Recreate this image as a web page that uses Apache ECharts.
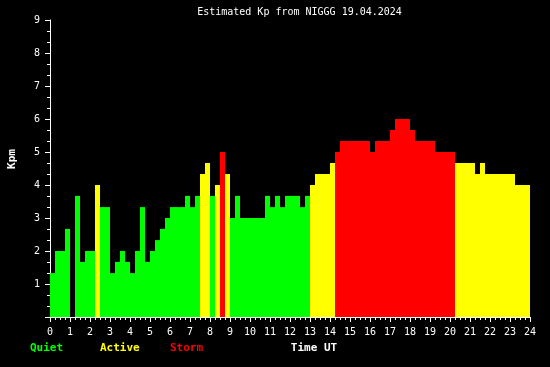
<!DOCTYPE html>
<html>
<head>
<meta charset="utf-8">
<script src="https://cdn.jsdelivr.net/npm/echarts@6/dist/echarts.min.js"></script>
<style>
html,body{margin:0;padding:0;background:#000;}
#chart{width:550px;height:367px;}
</style>
</head>
<body>
<div id="chart"></div>
<script>
// Estimated Kp, 15-minute intervals starting 00:00 UT (96 values)
const kpValues = [
  1.33, 2, 2, 2.67, 0, 3.67, 1.67, 2, 2, 4, 3.33, 3.33,
  1.33, 1.67, 2, 1.67, 1.33, 2, 3.33, 1.67, 2, 2.33, 2.67, 3,
  3.33, 3.33, 3.33, 3.67, 3.33, 3.67, 4.33, 4.67, 3.67, 4, 5, 4.33,
  3, 3.67, 3, 3, 3, 3, 3, 3.67, 3.33, 3.67, 3.33, 3.67,
  3.67, 3.67, 3.33, 3.67, 4, 4.33, 4.33, 4.33, 4.67, 5, 5.33, 5.33,
  5.33, 5.33, 5.33, 5.33, 5, 5.33, 5.33, 5.33, 5.67, 6, 6, 6,
  5.67, 5.33, 5.33, 5.33, 5.33, 5, 5, 5, 5, 4.67, 4.67, 4.67,
  4.67, 4.33, 4.67, 4.33, 4.33, 4.33, 4.33, 4.33, 4.33, 4, 4, 4
];
const stepHours = 0.25;
const titleText = 'Estimated Kp from NIGGG 19.04.2024';
const legendNames = ['Quiet', 'Active', 'Storm'];
const legendColors = ['#00ff00', '#ffff00', '#ff0000'];
const xAxisName = 'Time UT';
const yAxisName = 'Kpm';

function colorFor(v) {
  if (v >= 5) return legendColors[2];
  if (v >= 4) return legendColors[1];
  return legendColors[0];
}

const barData = kpValues.map((v, i) => ({
  value: [i * stepHours + stepHours / 2, v],
  itemStyle: { color: colorFor(v) }
}));

const mono = '"DejaVu Sans Mono", monospace';
const chart = echarts.init(document.getElementById('chart'), null, { renderer: 'canvas' });
const legendX = [30, 100, 170];

chart.setOption({
  backgroundColor: '#000000',
  animation: false,
  grid: { left: 50, right: 20, top: 20, bottom: 50, containLabel: false },
  xAxis: {
    type: 'value', min: 0, max: 24, interval: 1,
    axisLine: { show: true, lineStyle: { color: '#ffffff', width: 1 } },
    axisTick: { show: true, length: 5, lineStyle: { color: '#ffffff' } },
    minorTick: { show: true, splitNumber: 4, length: 3, lineStyle: { color: '#ffffff' } },
    axisLabel: { color: '#ffffff', fontFamily: mono, fontSize: 10, margin: 10 },
    splitLine: { show: false }
  },
  yAxis: {
    type: 'value', min: 0, max: 9, interval: 1,
    axisLine: { show: true, lineStyle: { color: '#ffffff', width: 1 } },
    axisTick: { show: true, length: 5, lineStyle: { color: '#ffffff' } },
    minorTick: { show: true, splitNumber: 3, length: 3, lineStyle: { color: '#ffffff' } },
    axisLabel: { color: '#ffffff', fontFamily: mono, fontSize: 10, margin: 10,
      formatter: v => (v === 0 ? '' : String(v)) },
    splitLine: { show: false }
  },
  series: [{
    type: 'bar',
    data: barData,
    barWidth: 5,
    barGap: '0%'
  }],
  graphic: [
    { type: 'text', x: 299.5, y: 12.5, style: { text: titleText, fill: '#ffffff',
      font: '10px ' + mono, textAlign: 'center', textVerticalAlign: 'middle' } },
    { type: 'text', x: 12, y: 159, rotation: Math.PI / 2, style: { text: yAxisName, fill: '#ffffff',
      font: 'bold 11px ' + mono, textAlign: 'center', textVerticalAlign: 'middle' } },
    { type: 'text', x: 314, y: 348.5, style: { text: xAxisName, fill: '#ffffff',
      font: 'bold 11px ' + mono, textAlign: 'center', textVerticalAlign: 'middle' } }
  ].concat(legendNames.map((name, i) => ({
    type: 'text', x: legendX[i], y: 348.5, style: { text: name, fill: legendColors[i],
      font: 'bold 11px ' + mono, textAlign: 'left', textVerticalAlign: 'middle' }
  })))
});
</script>
</body>
</html>
